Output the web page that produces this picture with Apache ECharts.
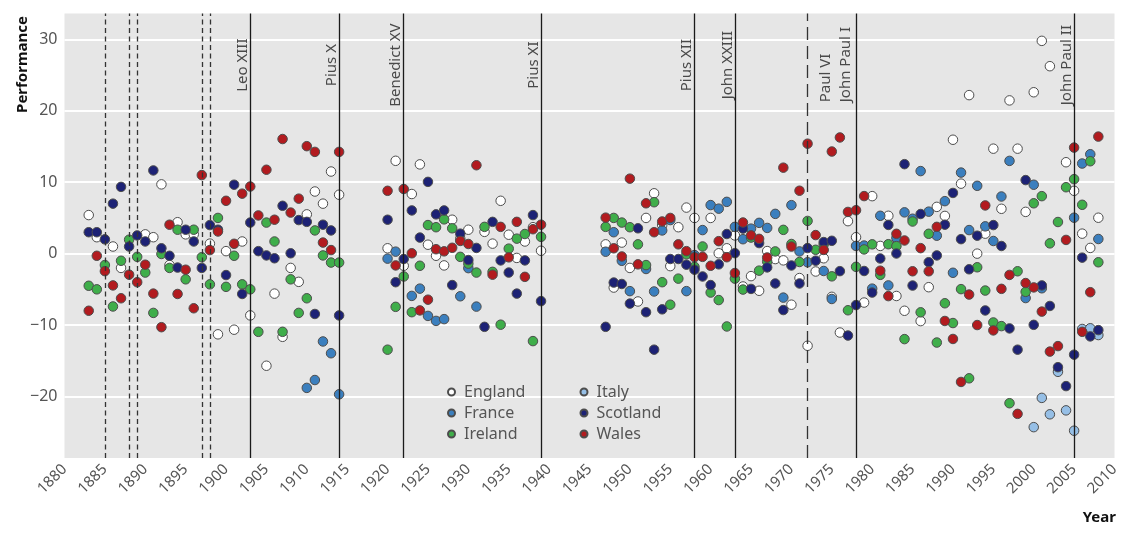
<!DOCTYPE html>
<html><head><meta charset="utf-8">
<script src="https://cdn.jsdelivr.net/npm/echarts@6/dist/echarts.min.js"></script>
<style>html,body{margin:0;padding:0;background:#fff}#c{width:1128px;height:541px}</style>
</head><body><div id="c"></div>
<script>
const england = [
[1883,5.4],[1884,2.3],[1886,1.0],[1887,-2.0],[1890,2.7],[1891,2.3],[1892,9.7],[1893,-1.6],[1894,4.4],[1895,2.7],[1896,2.7],[1898,1.4],[1899,-11.3],[1900,0.35],[1901,-10.65],[1902,1.7],[1903,-8.65],[1905,-15.7],[1906,-5.6],[1907,-11.65],[1908,-2.0],[1909,-3.95],[1910,5.5],[1911,8.7],[1912,7.0],[1913,11.5],[1914,8.25],
[1920,0.75],[1921,13.0],[1922,-1.7],[1923,8.35],[1924,12.5],[1925,1.25],[1926,-0.3],[1927,-1.65],[1928,4.75],[1929,2.1],[1930,3.35],[1932,3.05],[1933,1.4],[1934,7.4],[1935,2.65],[1936,-0.6],[1937,1.7],[1938,3.7],[1939,0.4],
[1947,1.3],[1948,-4.75],[1949,1.55],[1950,-2.0],[1951,-6.7],[1952,5.0],[1953,8.45],[1954,4.0],[1955,-1.75],[1956,3.7],[1957,6.45],[1958,5.0],[1960,5.0],[1961,0.05],[1962,0.75],[1963,2.55],[1964,-4.6],[1965,-3.15],[1966,-5.2],[1967,0.36],[1968,-0.76],[1969,-0.94],[1970,-7.15],[1971,-3.42],[1972,-12.9],[1973,-2.5],[1974,-0.65],[1975,-6.05],[1976,-11.05],[1977,4.55],[1978,2.3],[1979,-6.85],[1980,8.05],[1981,1.08],[1982,5.3],[1983,-5.93],[1984,-8.0],[1986,-9.45],[1987,-4.7],[1988,6.55],[1989,5.28],[1990,15.95],[1991,9.8],[1992,22.2],[1993,0.0],[1994,2.8],[1995,14.7],[1996,6.28],[1997,21.46],[1998,14.7],[1999,5.85],[2000,22.6],[2001,29.8],[2002,26.25],[2004,12.8],[2005,8.8],[2006,2.8],[2007,0.8],[2008,5.03]
];
const france = [
[1910,-18.8],[1911,-17.7],[1912,-12.3],[1913,-13.95],[1914,-19.7],
[1920,-0.7],[1921,0.28],[1923,-5.92],[1924,-4.9],[1925,-8.72],[1926,-9.42],[1927,-9.17],[1929,-5.97],[1930,-2.03],[1931,-7.42],
[1947,0.27],[1948,3.0],[1949,-1.0],[1950,-5.25],[1952,-2.15],[1953,-5.3],[1954,3.25],[1955,4.7],[1957,-5.25],[1958,-0.2],[1959,3.3],[1960,6.8],[1961,6.3],[1962,7.25],[1963,3.75],[1964,2.02],[1965,3.5],[1966,4.31],[1967,3.6],[1968,5.57],[1969,-6.16],[1970,6.79],[1971,0.31],[1972,-1.21],[1974,-2.43],[1975,-6.35],[1978,1.08],[1979,1.13],[1980,-4.9],[1981,5.3],[1982,-4.45],[1983,2.2],[1984,5.78],[1985,4.89],[1986,11.56],[1987,5.88],[1988,2.51],[1989,7.35],[1990,-2.68],[1991,11.35],[1992,3.3],[1993,9.5],[1994,3.82],[1995,1.77],[1996,8.0],[1997,12.99],[1999,-6.22],[2000,9.65],[2001,-4.85],[2005,5.03],[2006,12.62],[2007,13.92],[2008,2.05]
];
const ireland = [
[1883,-4.5],[1884,-5.0],[1885,-1.6],[1886,-7.4],[1887,-1.0],[1888,1.95],[1889,-0.45],[1890,-2.65],[1891,-8.3],[1892,-0.05],[1893,-2.0],[1894,3.35],[1895,-3.6],[1896,3.35],[1897,-0.5],[1898,-4.3],[1899,5.0],[1900,-4.65],[1901,-0.3],[1902,-4.3],[1903,-5.0],[1904,-10.95],[1905,4.35],[1906,1.7],[1907,-10.95],[1908,-3.6],[1909,-8.3],[1910,-6.25],[1911,3.25],[1912,-0.25],[1913,-1.25],[1914,-1.25],
[1920,-13.45],[1921,-7.45],[1922,-3.2],[1923,-8.2],[1924,-1.7],[1925,4.0],[1926,3.7],[1927,4.8],[1928,3.55],[1929,-0.45],[1930,-1.4],[1931,-2.65],[1932,3.75],[1933,-2.55],[1934,-9.95],[1935,0.7],[1936,2.1],[1937,2.75],[1938,-12.25],[1939,2.35],
[1947,3.75],[1948,5.0],[1949,4.35],[1950,3.7],[1951,1.3],[1952,-1.6],[1953,7.2],[1954,-4.0],[1955,-7.15],[1956,-3.5],[1957,-0.1],[1958,-1.85],[1959,1.0],[1960,-5.45],[1961,-6.5],[1962,-10.2],[1963,-3.5],[1964,-5.03],[1965,2.25],[1966,-2.38],[1967,-1.12],[1968,0.31],[1969,3.33],[1970,1.35],[1971,-1.17],[1972,4.58],[1973,0.54],[1974,1.3],[1975,-3.18],[1977,-7.93],[1978,-1.85],[1979,0.59],[1980,1.3],[1981,-2.97],[1982,1.32],[1983,1.05],[1984,-11.97],[1985,4.5],[1986,-8.22],[1987,2.78],[1988,-12.45],[1989,-6.95],[1990,-9.72],[1991,-4.97],[1992,-17.46],[1993,-1.91],[1994,-5.17],[1995,-9.64],[1996,-10.15],[1997,-20.95],[1998,-2.47],[1999,-5.35],[2000,7.05],[2001,8.05],[2002,1.44],[2003,4.43],[2004,9.3],[2005,10.43],[2006,6.84],[2007,12.94],[2008,-1.21]
];
const italy = [
[2000,-24.3],[2001,-20.2],[2002,-22.5],[2003,-16.55],[2004,-21.95],[2005,-24.8],[2006,-10.55],[2007,-10.45],[2008,-11.4]
];
const scotland = [
[1883,3.0],[1884,3.0],[1885,2.0],[1886,7.0],[1887,9.35],[1888,1.0],[1889,2.55],[1890,1.7],[1891,11.65],[1892,0.75],[1893,-0.3],[1894,-1.95],[1895,3.35],[1896,1.7],[1897,-2.0],[1898,4.0],[1899,3.35],[1900,-3.0],[1901,9.65],[1902,-5.65],[1903,4.35],[1904,0.35],[1905,-0.25],[1906,-0.65],[1907,6.7],[1908,0.05],[1909,4.7],[1910,4.45],[1911,-8.45],[1912,4.05],[1913,3.25],[1914,-8.65],
[1920,4.75],[1921,-4.0],[1922,-0.75],[1923,6.05],[1924,2.25],[1925,10.05],[1926,5.5],[1927,6.05],[1928,-4.4],[1929,2.8],[1930,-0.9],[1931,0.8],[1932,-10.25],[1933,4.45],[1934,-0.95],[1935,-2.65],[1936,-5.6],[1937,-0.95],[1938,5.4],[1939,-6.65],
[1947,-10.25],[1948,-4.05],[1949,-4.25],[1950,-7.0],[1951,3.55],[1952,-8.2],[1953,-13.45],[1954,-7.8],[1955,-0.75],[1956,-0.75],[1957,-1.55],[1958,-2.25],[1959,-3.2],[1960,-4.4],[1961,-1.5],[1962,2.75],[1963,0.07],[1964,3.51],[1965,-4.94],[1966,1.48],[1967,-1.93],[1968,-4.18],[1969,-7.9],[1970,-1.66],[1971,-4.18],[1972,0.78],[1973,-0.99],[1974,1.62],[1975,1.8],[1976,-2.45],[1977,-11.47],[1978,-7.2],[1979,-2.43],[1980,-5.45],[1981,-0.68],[1982,4.02],[1983,0.02],[1984,12.53],[1985,-4.47],[1986,5.55],[1987,-1.2],[1988,-0.25],[1989,4.05],[1990,8.5],[1991,2.03],[1992,-2.19],[1993,2.51],[1994,-7.96],[1995,4.0],[1996,1.07],[1997,-10.47],[1998,-13.45],[1999,10.3],[2000,-9.97],[2001,-4.45],[2002,-7.33],[2003,-15.9],[2004,-18.55],[2005,-14.15],[2006,-0.56],[2007,-11.59],[2008,-10.71]
];
const wales = [
[1883,-8.0],[1884,-0.3],[1885,-2.45],[1886,-4.45],[1887,-6.25],[1888,-2.95],[1889,-4.0],[1890,-1.55],[1891,-5.6],[1892,-10.3],[1893,4.05],[1894,-5.65],[1895,-2.25],[1896,-7.65],[1897,11.0],[1898,0.5],[1899,3.1],[1900,7.4],[1901,1.38],[1902,8.4],[1903,9.4],[1904,5.35],[1905,11.75],[1906,4.75],[1907,16.05],[1908,5.75],[1909,7.7],[1910,15.05],[1911,14.25],[1912,1.55],[1913,0.5],[1914,14.25],
[1920,8.8],[1921,-1.65],[1922,9.05],[1923,0.05],[1924,-7.95],[1925,-6.45],[1926,0.62],[1927,0.32],[1928,0.82],[1929,1.78],[1930,1.35],[1931,12.38],[1933,-2.95],[1934,3.75],[1935,-0.52],[1936,4.45],[1937,-3.25],[1938,3.42],[1939,4.05],
[1947,5.04],[1948,0.75],[1949,-0.4],[1950,10.5],[1951,-1.5],[1952,7.05],[1953,3.0],[1954,4.5],[1955,5.0],[1956,1.3],[1957,0.35],[1958,-0.5],[1959,-0.45],[1960,-1.7],[1961,1.75],[1962,-0.5],[1963,-2.72],[1964,4.36],[1965,2.56],[1966,2.07],[1967,-0.54],[1969,12.04],[1970,0.99],[1971,8.81],[1972,15.4],[1973,2.6],[1974,0.52],[1975,14.3],[1976,16.27],[1977,5.84],[1978,6.08],[1979,8.06],[1981,-2.39],[1982,-5.95],[1983,2.78],[1984,1.84],[1985,-2.47],[1986,0.77],[1987,-2.47],[1988,3.75],[1989,-9.43],[1990,-11.95],[1991,-17.97],[1992,-5.73],[1993,-10.0],[1994,6.75],[1995,-10.75],[1996,-4.93],[1997,-2.98],[1998,-22.44],[1999,-4.12],[2000,-4.73],[2001,-8.12],[2002,-13.72],[2003,-12.95],[2004,1.92],[2005,14.85],[2006,-10.95],[2007,-5.4],[2008,16.39]
];
const popeYears = [1903, 1914, 1922, 1939, 1958, 1963, 1978, 2005];
const popeNames = ['Leo XIII', 'Pius X', 'Benedict XV', 'Pius XI', 'Pius XII', 'John XXIII', 'Paul VI\nJohn Paul I', 'John Paul II'];
const shortDashYears = [1885, 1888, 1889, 1897, 1898];
const longDashYears = [1972];

const FONT = "'Noto Sans', 'DejaVu Sans', sans-serif";
const BORDER = '#4d4d4d';
const chart = echarts.init(document.getElementById('c'));

function pts(name, data, color) {
  return { name, type: 'scatter', data, symbol: 'circle', symbolSize: 9.5,
    itemStyle: { color, borderColor: BORDER, borderWidth: 1, opacity: 1 }, z: 3 };
}
const LABEL_MID = 26.4, LABEL_START = 21.2;
const popeLabelData = popeYears.map((y, i) => {
  const multi = popeNames[i].indexOf('\n') >= 0;
  return { value: [y, multi ? LABEL_START : LABEL_MID], name: popeNames[i],
    label: multi ? { align: 'left', lineHeight: 20 } : {} };
});

const lineSeries = {
  type: 'scatter', data: [], silent: true, z: 2,
  markLine: {
    silent: true, symbol: 'none', animation: false,
    label: { show: false },
    data: [
      ...popeYears.map(y => ({ xAxis: y, lineStyle: { type: 'solid', color: '#1a1a1a', width: 1.3 } })),
      ...shortDashYears.map(y => ({ xAxis: y, lineStyle: { type: [5, 3.5], color: '#333', width: 1.3 } })),
      ...longDashYears.map(y => ({ xAxis: y, lineStyle: { type: [13, 6], color: '#333', width: 1.3 } }))
    ]
  }
};

const labelSeries = {
  type: 'scatter', data: popeLabelData, symbolSize: 1, silent: true, z: 4,
  itemStyle: { color: 'rgba(0,0,0,0)', borderWidth: 0 },
  label: { show: true, position: 'inside', rotate: 90, align: 'center', verticalAlign: 'bottom',
    formatter: '{b}', fontSize: 15, color: '#222', fontFamily: FONT }
};

const legendCommon = { orient: 'vertical', icon: 'circle', itemWidth: 7, itemHeight: 7, itemGap: 3, padding: 0,
  selectedMode: false,
  textStyle: { fontSize: 16, color: '#555', fontFamily: FONT, lineHeight: 18, padding: [0, 0, 0, 4] } };

chart.setOption({
  animation: false,
  backgroundColor: '#fff',
  textStyle: { fontFamily: FONT },
  grid: { left: 64.5, right: 13.5, top: 13.5, bottom: 83, show: true, backgroundColor: '#e6e6e6', borderWidth: 0, containLabel: false },
  xAxis: { type: 'value', min: 1880, max: 2010, interval: 5,
    axisLine: { show: false }, axisTick: { show: false }, splitLine: { show: false },
    axisLabel: { rotate: 45, fontSize: 15, color: '#555', margin: 9, fontFamily: FONT,
      formatter: v => String(v), padding: [0, 0, 0, 0] } },
  yAxis: { type: 'value', min: -28.62, max: 33.63, splitNumber: 6,
    axisLine: { show: false }, axisTick: { show: false },
    splitLine: { show: true, showMinLine: false, showMaxLine: false, lineStyle: { color: '#fff', width: 2 } },
    axisLabel: { showMinLabel: false, showMaxLabel: false, fontSize: 16, color: '#555', margin: 7, fontFamily: FONT,
      formatter: v => String(v).replace('-', '\u2212') } },
  legend: [
    Object.assign({}, legendCommon, { data: ['England', 'France', 'Ireland'], left: 447, top: 383 }),
    Object.assign({}, legendCommon, { data: ['Italy', 'Scotland', 'Wales'], left: 579.5, top: 383 })
  ],
  graphic: [
    { type: 'text', x: 22.5, y: 16, rotation: Math.PI / 2, silent: true,
      style: { text: 'Performance', fill: '#111', font: "bold 15px 'Noto Sans'", align: 'right', verticalAlign: 'middle' } },
    { type: 'text', x: 1116, y: 518, silent: true,
      style: { text: 'Year', fill: '#111', font: "bold 15px 'Noto Sans'", align: 'right', verticalAlign: 'middle' } }
  ],
  series: [
    lineSeries,
    pts('England', england, '#ffffff'),
    pts('France', france, '#3b7fbe'),
    pts('Ireland', ireland, '#3fae4a'),
    pts('Italy', italy, '#96bfe6'),
    pts('Scotland', scotland, '#1d2275'),
    pts('Wales', wales, '#b21b1f'),
    labelSeries
  ]
});
</script></body></html>
